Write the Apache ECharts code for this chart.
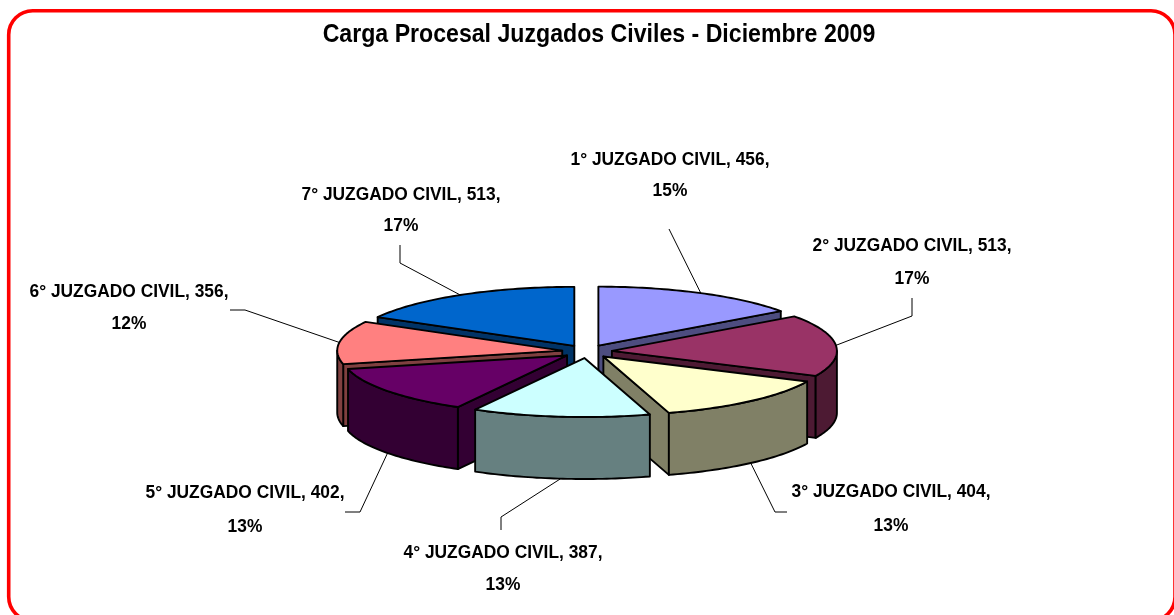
<!DOCTYPE html>
<html><head><meta charset="utf-8">
<style>html,body{margin:0;padding:0;background:#fff}#c{width:1174px;height:615px}</style>
<script src="https://cdn.jsdelivr.net/npm/echarts@6/dist/echarts.min.js"></script>
</head><body><div id="c"></div>
<script>
var titleText = 'Carga Procesal Juzgados Civiles - Diciembre 2009';
var categories = ['1° JUZGADO CIVIL','2° JUZGADO CIVIL','3° JUZGADO CIVIL','4° JUZGADO CIVIL','5° JUZGADO CIVIL','6° JUZGADO CIVIL','7° JUZGADO CIVIL'];
var values = [456,513,404,387,402,356,513];
var topColors = ['#9999FF','#993366','#FFFFCC','#CCFFFF','#660066','#FF8080','#0066CC'];
var wallColors = ['#4D4D80','#4D1A33','#808066','#668080','#330033','#804040','#003366'];
// label layout: centre x, first-line y, second-line y, elbow points of the leader line
var labelLayout = [
 {x:670,y1:160,y2:191,leader:[[669,229]]},
 {x:912,y1:246,y2:279,leader:[[912,298],[912,316]]},
 {x:891,y1:492,y2:526,leader:[[787,512],[775,512]]},
 {x:503,y1:553,y2:585,leader:[[501,530],[501,517]]},
 {x:245,y1:493,y2:527,leader:[[345,512],[360,512]]},
 {x:129,y1:292,y2:324,leader:[[230,310],[245,310]]},
 {x:401,y1:195,y2:226,leader:[[400,245],[400,263]]}
];
var pie = {cx:587,cy:351.5,rx:225,ry:59,depth:62,explode:25};
var paintOrder = [6,0,1,5,4,2,3];
var FONT = '"Liberation Sans",Arial,sans-serif';
var total = values.reduce(function(a,b){return a+b;},0);
var slices = [], acc = 0;
values.forEach(function(v,i){
  var s = acc/total*Math.PI*2; acc += v;
  var e = acc/total*Math.PI*2, m=(s+e)/2;
  slices.push({i:i,s:s,e:e,m:m,ax:pie.cx+pie.explode*Math.sin(m),ay:pie.cy-pie.explode*pie.ry/pie.rx*Math.cos(m)});
});
function rim(sl,a,dy){return [sl.ax+pie.rx*Math.sin(a),sl.ay-pie.ry*Math.cos(a)+(dy||0)];}
function arc(sl,a,b,dy){var n=Math.max(2,Math.ceil(Math.abs(b-a)/0.02)),p=[];for(var k=0;k<=n;k++)p.push(rim(sl,a+(b-a)*k/n,dy));return p;}
var stroke={stroke:'#000',lineWidth:1.9,lineJoin:'round'};
function poly(points,fill){return {type:'polygon',shape:{points:points},style:Object.assign({fill:fill},stroke)};}
function renderItem(params,api){
  var sl=slices[api.value(0)],d=pie.depth,w=wallColors[sl.i],out=[];
  var A=[sl.ax,sl.ay],A2=[sl.ax,sl.ay+d];
  function radial(a){var r=rim(sl,a),r2=rim(sl,a,d);out.push(poly([A,r,r2,A2],w));}
  if(Math.sin(sl.e)>0) radial(sl.e);
  if(Math.sin(sl.s)<0) radial(sl.s);
  var lo=Math.max(sl.s,Math.PI/2),hi=Math.min(sl.e,Math.PI*1.5);
  if(hi>lo){out.push(poly(arc(sl,lo,hi,0).concat(arc(sl,hi,lo,d)),w));}
  out.push(poly([A].concat(arc(sl,sl.s,sl.e,0)),topColors[sl.i]));
  return {type:'group',children:out};
}
function labelText(x,y,t){
  return {type:'text',x:x,y:y,scaleX:0.965,style:{text:t,font:'bold 18px '+FONT,fill:'#000',align:'center',verticalAlign:'middle'}};
}
function renderLabel(params,api){
  var i=api.value(0),sl=slices[i],L=labelLayout[i];
  var front=Math.cos(sl.m)<0&&Math.abs(Math.sin(sl.m))<0.9;
  var anchor=rim(sl,sl.m,front?pie.depth:0);
  var pct=Math.round(values[i]/total*100);
  return {type:'group',children:[
    {type:'polyline',shape:{points:L.leader.concat([anchor])},style:{stroke:'#000',lineWidth:1,fill:null}},
    labelText(L.x,L.y1,categories[i]+', '+values[i]+','),
    labelText(L.x,L.y2,pct+'%')
  ]};
}
var chart=echarts.init(document.getElementById('c'),null,{renderer:'canvas'});
chart.setOption({
  animation:false,
  backgroundColor:'#fff',
  graphic:[
    {type:'rect',z:-1,shape:{x:8.7,y:10.8,width:1166.3,height:610,r:24},style:{fill:'#fff',stroke:'#f00',lineWidth:3.6}},
    {type:'text',z:5,x:599,y:35,scaleX:0.925,style:{text:titleText,font:'bold 25px '+FONT,fill:'#000',align:'center',verticalAlign:'middle'}}
  ],
  series:[
    {type:'custom',coordinateSystem:'none',renderItem:renderItem,data:paintOrder.map(function(i){return [i,values[i]];}),z:2,silent:true},
    {type:'custom',coordinateSystem:'none',renderItem:renderLabel,data:values.map(function(v,i){return [i,v];}),z:3,silent:true}
  ]
});
</script></body></html>
